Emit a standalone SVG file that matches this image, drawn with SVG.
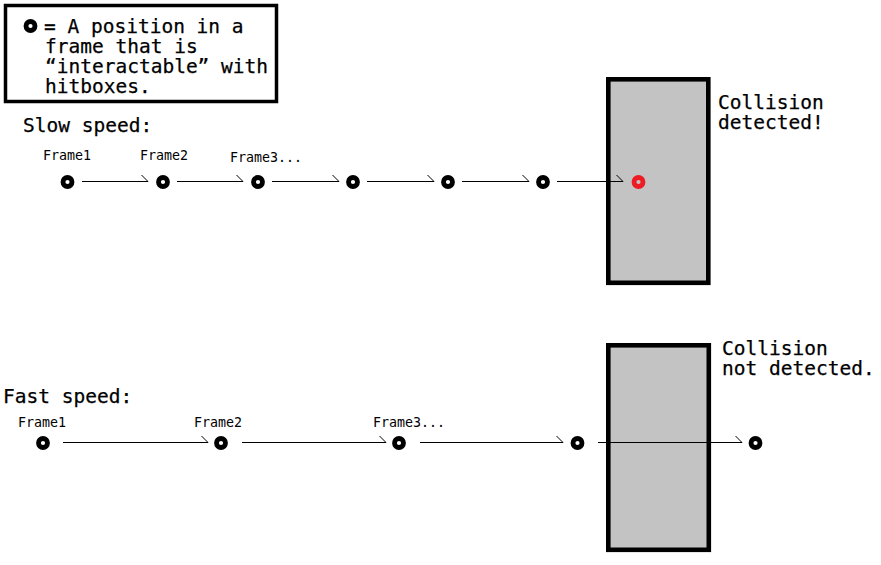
<svg xmlns="http://www.w3.org/2000/svg" width="881" height="565" viewBox="0 0 881 565">
<style>
  .big { font-family: "DejaVu Sans Mono", "Liberation Mono", monospace; font-size: 19.5px; fill: #000; stroke: #000; stroke-width: 0.25; }
  .small { font-family: "DejaVu Sans Mono", "Liberation Mono", monospace; font-size: 13.3px; fill: #000; }
  .pt { fill: none; stroke: #000; stroke-width: 4.8; }
  .pt-hit { fill: none; stroke: #ed1c24; stroke-width: 4.8; }
  .wall { fill: #c3c3c3; stroke: #000; stroke-width: 4.6; }
  .conn { fill: none; stroke: #000; stroke-width: 1; }
</style>
<defs>
  <marker id="half" markerWidth="10" markerHeight="10" refX="8" refY="8" orient="auto" markerUnits="userSpaceOnUse">
    <path d="M1.5 1.5 L8 8" fill="none" stroke="#000" stroke-width="1"/>
  </marker>
</defs>
<rect width="881" height="565" fill="#fff"/>

<g id="legend">
  <rect x="5.5" y="5.5" width="271" height="96" fill="#fff" stroke="#000" stroke-width="3.5"/>
  <circle class="pt" cx="30.5" cy="26" r="4.5"/>
  <text class="big" x="44" y="33">= A position in a</text>
  <text class="big" x="45" y="53">frame that is</text>
  <text class="big" x="45" y="73">“interactable” with</text>
  <text class="big" x="45" y="93">hitboxes.</text>
</g>

<g id="slow-title"><text class="big" x="23" y="132">Slow speed:</text></g>
<g id="fast-title"><text class="big" x="3" y="403">Fast speed:</text></g>

<g id="wall-slow">
  <rect class="wall" x="608.3" y="79.3" width="100" height="203.5"/>
  <text class="big" x="718" y="109">Collision</text>
  <text class="big" x="718" y="129">detected!</text>
</g>
<g id="wall-fast">
  <rect class="wall" x="608.3" y="345.3" width="100.5" height="204.5"/>
  <text class="big" x="722" y="355">Collision</text>
  <text class="big" x="722" y="375">not detected.</text>
</g>

<g id="connectors">
  <line class="conn" x1="82" y1="181.5" x2="148" y2="181.5" marker-end="url(#half)"/>
  <line class="conn" x1="177" y1="181.5" x2="243" y2="181.5" marker-end="url(#half)"/>
  <line class="conn" x1="272" y1="181.5" x2="339" y2="181.5" marker-end="url(#half)"/>
  <line class="conn" x1="367" y1="181.5" x2="434" y2="181.5" marker-end="url(#half)"/>
  <line class="conn" x1="462" y1="181.5" x2="529" y2="181.5" marker-end="url(#half)"/>
  <line class="conn" x1="557" y1="181.5" x2="623" y2="181.5" marker-end="url(#half)"/>

  <line class="conn" x1="63" y1="442.5" x2="208" y2="442.5" marker-end="url(#half)"/>
  <line class="conn" x1="242" y1="442.5" x2="386" y2="442.5" marker-end="url(#half)"/>
  <line class="conn" x1="420" y1="442.5" x2="563" y2="442.5" marker-end="url(#half)"/>
  <line class="conn" x1="598" y1="442.5" x2="742" y2="442.5" marker-end="url(#half)"/>
</g>

<g id="slow-f1"><circle class="pt" cx="67.5" cy="182" r="4.5"/><text class="small" x="43" y="160">Frame1</text></g>
<g id="slow-f2"><circle class="pt" cx="163" cy="182" r="4.5"/><text class="small" x="140" y="160">Frame2</text></g>
<g id="slow-f3"><circle class="pt" cx="258" cy="182" r="4.5"/><text class="small" x="230" y="162">Frame3...</text></g>
<g id="slow-f4"><circle class="pt" cx="353" cy="182" r="4.5"/></g>
<g id="slow-f5"><circle class="pt" cx="448" cy="182" r="4.5"/></g>
<g id="slow-f6"><circle class="pt" cx="543" cy="182" r="4.5"/></g>
<g id="slow-f7"><circle class="pt-hit" cx="638.5" cy="182" r="4.5"/></g>

<g id="fast-f1"><circle class="pt" cx="43" cy="443" r="4.5"/><text class="small" x="18" y="427">Frame1</text></g>
<g id="fast-f2"><circle class="pt" cx="221" cy="443" r="4.5"/><text class="small" x="194" y="427">Frame2</text></g>
<g id="fast-f3"><circle class="pt" cx="399" cy="443" r="4.5"/><text class="small" x="373" y="427">Frame3...</text></g>
<g id="fast-f4"><circle class="pt" cx="577.5" cy="443" r="4.5"/></g>
<g id="fast-f5"><circle class="pt" cx="755.5" cy="443" r="4.5"/></g>
</svg>
